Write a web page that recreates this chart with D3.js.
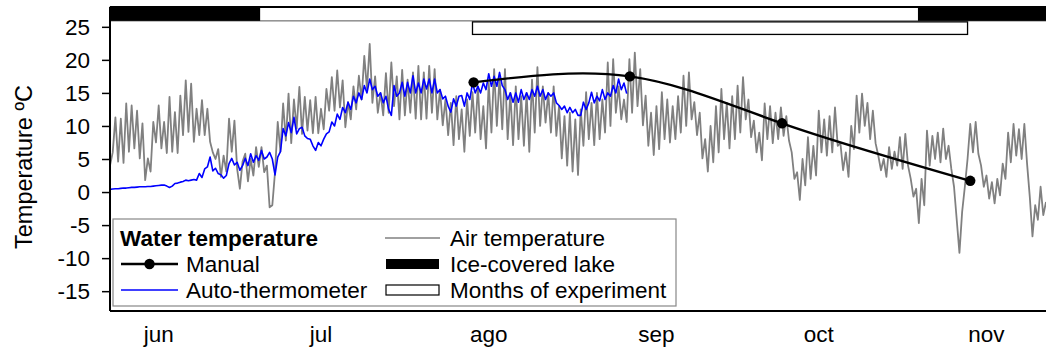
<!DOCTYPE html>
<html><head><meta charset="utf-8">
<script src="https://cdn.jsdelivr.net/npm/d3@7"></script>
<style>html,body{margin:0;padding:0;background:#fff}svg{display:block;font-family:"Liberation Sans",Arial,sans-serif}</style>
</head><body><svg id="c" width="1046" height="351"></svg>
<script>
// ---- data ----
const seriesStart = "2015-06-06T00:00";
const stepHours = 12;
const airTemp = [
4.0,6.0, 11.3,4.6, 11.1,4.4, 13.4,6.1, 13.1,6.6, 12.3,5.1, 10.4,1.8, 5.1,3.1, 10.6,7.5, 13.1,6.6,
10.6,5.9, 14.4,6.1, 12.1,5.9, 14.6,8.6, 16.9,9.1, 16.4,7.6, 12.6,8.6, 13.9,8.6, 12.6,7.6, 6.0,5.0,
6.5,2.3, 5.5,3.1, 11.1,6.1, 10.8,3.5, 0.5,4.6, 5.8,1.6, 5.0,2.5, 6.8,3.8, 6.8,3.0, 4.0,-2.3,
-2.0,3.0, 10.6,6.1, 13.4,7.8, 14.9,7.4, 14.0,9.6, 15.9,8.8, 14.4,9.3, 13.9,8.9, 14.4,8.9, 12.6,9.5,
15.6,12.3, 17.4,12.3, 18.4,12.8, 16.9,9.8, 13.6,11.0, 16.0,12.5, 17.6,14.0, 20.6,15.6, 22.4,13.5, 17.5,12.0,
15.0,11.6, 18.0,12.0, 19.6,13.0, 17.5,11.0, 18.5,11.6, 17.0,12.0, 18.1,11.1, 19.1,11.0, 18.1,11.1, 19.1,12.0,
18.6,11.0, 15.5,10.1, 14.0,8.6, 13.5,7.1, 14.5,8.0, 12.5,6.1, 14.0,8.5, 15.1,9.0, 16.0,8.0, 13.0,6.6,
16.5,9.0, 18.6,10.0, 17.5,9.5, 18.6,8.0, 15.0,7.1, 16.0,8.0, 14.5,7.0, 15.0,6.1, 17.0,9.0, 18.9,10.0,
16.0,10.5, 15.0,9.0, 16.0,8.5, 13.0,5.1, 11.5,4.0, 12.0,3.1, 11.0,2.6, 12.5,7.0, 15.1,8.0, 13.5,7.1,
15.0,8.0, 14.0,9.0, 19.6,10.0, 20.1,12.0, 16.0,11.0, 14.0,10.6, 20.1,12.0, 21.1,13.0, 18.6,10.1, 14.6,7.0,
12.0,5.6, 13.0,6.5, 15.1,8.0, 14.0,7.5, 13.0,8.0, 14.5,9.0, 17.6,10.0, 18.1,11.0, 13.6,8.6, 12.0,5.1,
8.0,3.1, 10.0,4.5, 13.0,6.0, 15.6,8.0, 13.5,6.6, 14.5,8.0, 16.1,9.0, 17.4,11.0, 14.0,8.3, 10.8,6.0,
9.0,4.8, 13.4,8.0, 13.0,7.4, 12.0,8.0, 12.8,8.5, 11.5,7.8, 6.0,2.0, 3.0,-1.2, 5.0,1.0, 8.3,2.0,
7.0,2.5, 12.3,6.0, 11.0,5.5, 11.5,6.0, 12.8,7.0, 7.4,3.3, 6.0,2.3, 10.0,6.5, 14.6,9.0, 14.9,10.0,
13.5,8.0, 12.3,7.4, 5.5,3.3, 5.0,2.3, 6.8,3.5, 6.1,4.0, 8.3,3.5, 8.8,4.0, 2.0,-0.7, 0.5,-4.7,
2.0,-2.0, 9.3,4.0, 8.5,5.0, 9.0,4.5, 9.6,5.0, 7.0,3.5, 0.8,-4.2, -9.2,-3.0, 0.8,5.0, 10.3,6.0,
10.6,5.8, 4.0,0.8, 2.5,-1.0, 1.5,-1.7, 2.0,-0.5, 4.3,2.0, 9.0,4.5, 10.3,5.5, 9.5,5.0, 10.3,4.3,
-0.7,-6.7, -2.0,-4.2, 0.8,-3.5, -1.5
];
const autoTemp = [
0.4,0.45, 0.5,0.5, 0.55,0.6, 0.6,0.65, 0.7,0.7, 0.75,0.8, 0.8,0.8, 0.85,0.85, 0.9,0.95, 1.0,1.05,
1.05,0.9, 0.7,0.9, 1.3,1.35, 1.5,1.6, 1.8,1.7, 1.8,1.9, 1.8,2.8, 2.2,3.5, 3.8,5.3, 3.2,3.6,
2.8,2.6, 2.1,2.5, 4.3,5.1, 4.1,4.5, 3.3,4.0, 5.1,4.0, 5.8,4.5, 5.5,4.8, 6.3,5.0, 5.3,6.0,
5.0,2.6, 5.3,6.1, 9.6,8.5, 10.5,9.0, 11.3,8.8, 9.6,9.8, 8.5,8.1, 8.0,7.0, 6.3,7.5, 7.0,8.0,
8.8,9.1, 10.6,10.0, 11.8,11.0, 12.8,12.0, 13.6,12.5, 14.5,13.5, 15.0,14.0, 16.1,15.0, 17.1,15.5, 16.0,14.5,
15.0,13.5, 14.5,12.5, 11.6,16.1, 14.5,15.0, 16.6,14.5, 16.6,15.0, 17.6,15.0, 16.5,15.0, 17.1,15.6, 17.1,15.0,
17.1,15.0, 15.5,14.1, 14.5,13.0, 12.1,14.1, 13.0,14.5, 14.6,13.0, 15.0,14.0, 16.5,15.0, 16.0,15.0, 16.5,15.5,
17.9,16.0, 17.5,16.0, 18.1,16.1, 15.5,14.0, 15.0,13.6, 15.0,13.6, 15.5,14.0, 15.0,14.0, 15.5,14.5, 16.0,14.5,
15.5,14.0, 15.0,14.5, 15.0,13.5, 13.1,12.5, 13.0,12.0, 12.8,12.0, 12.5,11.6, 11.6,13.6, 12.5,13.5, 15.1,13.5,
14.5,13.8, 15.5,14.0, 15.0,14.5, 16.1,15.0, 17.1,15.5, 16.5,14.9
];
const manualDates = ["2015-08-12T05:00","2015-09-10T02:00","2015-10-08T05:00","2015-11-12T00:00"];
const manualTemp = [16.6, 17.5, 10.4, 1.7];
const icePeriods = [["2015-06-06T00:00","2015-07-03T18:00"],["2015-11-02T08:00","2015-11-26T00:00"]];
const experimentPeriod = ["2015-08-12T00:00","2015-11-11T12:00"];
const xDomain = ["2015-06-06T00:00","2015-11-26T00:00"];
const monthLabels = ["jun","jul","ago","sep","oct","nov"];
const monthLabelDates = ["2015-06-15","2015-07-15","2015-08-15","2015-09-15","2015-10-15","2015-11-15"];
const yTicks = [25,20,15,10,5,0,-5,-10,-15];
const yDomain = [-18, 28];

// ---- drawing ----
const P = d3.isoParse;
const svg = d3.select("#c");
const L = 110, R = 1046, T = 7, B = 311;
const FS = 22.5;
const x = d3.scaleTime().domain(xDomain.map(P)).range([L, R]);
const y = d3.scaleLinear().domain(yDomain).range([B, T]);
const t0 = P(seriesStart);
const tAt = i => new Date(t0.getTime() + i * stepHours * 3600e3);

const line = d3.line().x(d => x(d[0])).y(d => y(d[1]));
svg.append("path").datum(airTemp.map((v,i)=>[tAt(i),v]))
  .attr("d", line).attr("fill","none").attr("stroke","#808080").attr("stroke-width",1.8).attr("stroke-linejoin","round");
svg.append("path").datum(autoTemp.map((v,i)=>[tAt(i),v]))
  .attr("d", line).attr("fill","none").attr("stroke","#0000ff").attr("stroke-width",1.6).attr("stroke-linejoin","round");

const man = manualDates.map((d,i)=>[P(d), manualTemp[i]]);
svg.append("path").datum(man).attr("d", d3.line().curve(d3.curveNatural).x(d=>x(d[0])).y(d=>y(d[1])))
  .attr("fill","none").attr("stroke","#000").attr("stroke-width",2.4);
svg.selectAll("circle.m").data(man).join("circle").attr("cx",d=>x(d[0])).attr("cy",d=>y(d[1])).attr("r",5.2).attr("fill","#000");

// top bar (ice)
svg.append("rect").attr("x",L).attr("y",y(28)).attr("width",R-L+5).attr("height",y(25.9)-y(28))
  .attr("fill","#fff").attr("stroke","#555").attr("stroke-width",1);
svg.selectAll("rect.ice").data(icePeriods).join("rect")
  .attr("x",d=>x(P(d[0]))).attr("y",y(28)).attr("width",d=>x(P(d[1]))-x(P(d[0]))).attr("height",y(25.9)-y(28)).attr("fill","#000");
// experiment bar
svg.append("rect").attr("x",x(P(experimentPeriod[0]))).attr("y",y(25.75))
  .attr("width",x(P(experimentPeriod[1]))-x(P(experimentPeriod[0]))).attr("height",y(23.85)-y(25.75))
  .attr("fill","#fff").attr("stroke","#000").attr("stroke-width",1.3);

// frame
svg.append("line").attr("x1",L).attr("x2",R).attr("y1",T).attr("y2",T).attr("stroke","#000").attr("stroke-width",2);
svg.append("line").attr("x1",L).attr("x2",R).attr("y1",B).attr("y2",B).attr("stroke","#000").attr("stroke-width",2);

// y axis
const ya = svg.append("g").attr("transform",`translate(${L},0)`)
  .call(d3.axisLeft(y).tickValues(yTicks).tickSize(8).tickPadding(12).tickFormat(d => String(d)));
ya.select(".domain").attr("d",`M0,${T}V${B}`).attr("stroke","#000").attr("stroke-width",2);
ya.selectAll(".tick line").attr("stroke","#000").attr("stroke-width",1.5);
ya.selectAll(".tick text").attr("font-size",FS).attr("fill","#000").attr("font-family","Liberation Sans, Arial, sans-serif");

svg.append("text").attr("transform",`translate(32,${167}) rotate(-90)`).attr("text-anchor","middle")
  .attr("font-size",23.5).text("Temperature ºC");

// month labels
svg.selectAll("text.mon").data(monthLabels).join("text").attr("class","mon")
  .attr("x",(d,i)=>x(P(monthLabelDates[i]))).attr("y",342).attr("text-anchor","middle").attr("font-size",FS).text(d=>d);

// legend
const lg = svg.append("g");
lg.append("rect").attr("x",113).attr("y",219).attr("width",563).attr("height",87).attr("fill","#fff").attr("stroke","#888").attr("stroke-width",1.2);
const r1 = 246, r2 = 272, r3 = 298;
lg.append("text").attr("x",120).attr("y",r1).attr("font-size",FS).attr("font-weight","bold").text("Water temperature");
lg.append("line").attr("x1",121).attr("x2",178).attr("y1",r2-8).attr("y2",r2-8).attr("stroke","#000").attr("stroke-width",2.4);
lg.append("circle").attr("cx",149.5).attr("cy",r2-8).attr("r",5.2).attr("fill","#000");
lg.append("text").attr("x",186).attr("y",r2).attr("font-size",FS).text("Manual");
lg.append("line").attr("x1",121).attr("x2",178).attr("y1",r3-8).attr("y2",r3-8).attr("stroke","#0000ff").attr("stroke-width",1.6);
lg.append("text").attr("x",186).attr("y",r3).attr("font-size",FS).text("Auto-thermometer");
lg.append("line").attr("x1",385).attr("x2",440).attr("y1",r1-8).attr("y2",r1-8).attr("stroke","#808080").attr("stroke-width",1.7);
lg.append("text").attr("x",450).attr("y",r1).attr("font-size",FS).text("Air temperature");
lg.append("rect").attr("x",386).attr("y",r2-13).attr("width",53).attr("height",10).attr("fill","#000");
lg.append("text").attr("x",450).attr("y",r2).attr("font-size",FS).text("Ice-covered lake");
lg.append("rect").attr("x",386).attr("y",r3-13).attr("width",53).attr("height",10).attr("fill","#fff").attr("stroke","#000").attr("stroke-width",1.2);
lg.append("text").attr("x",450).attr("y",r3).attr("font-size",FS).text("Months of experiment");
</script></body></html>
